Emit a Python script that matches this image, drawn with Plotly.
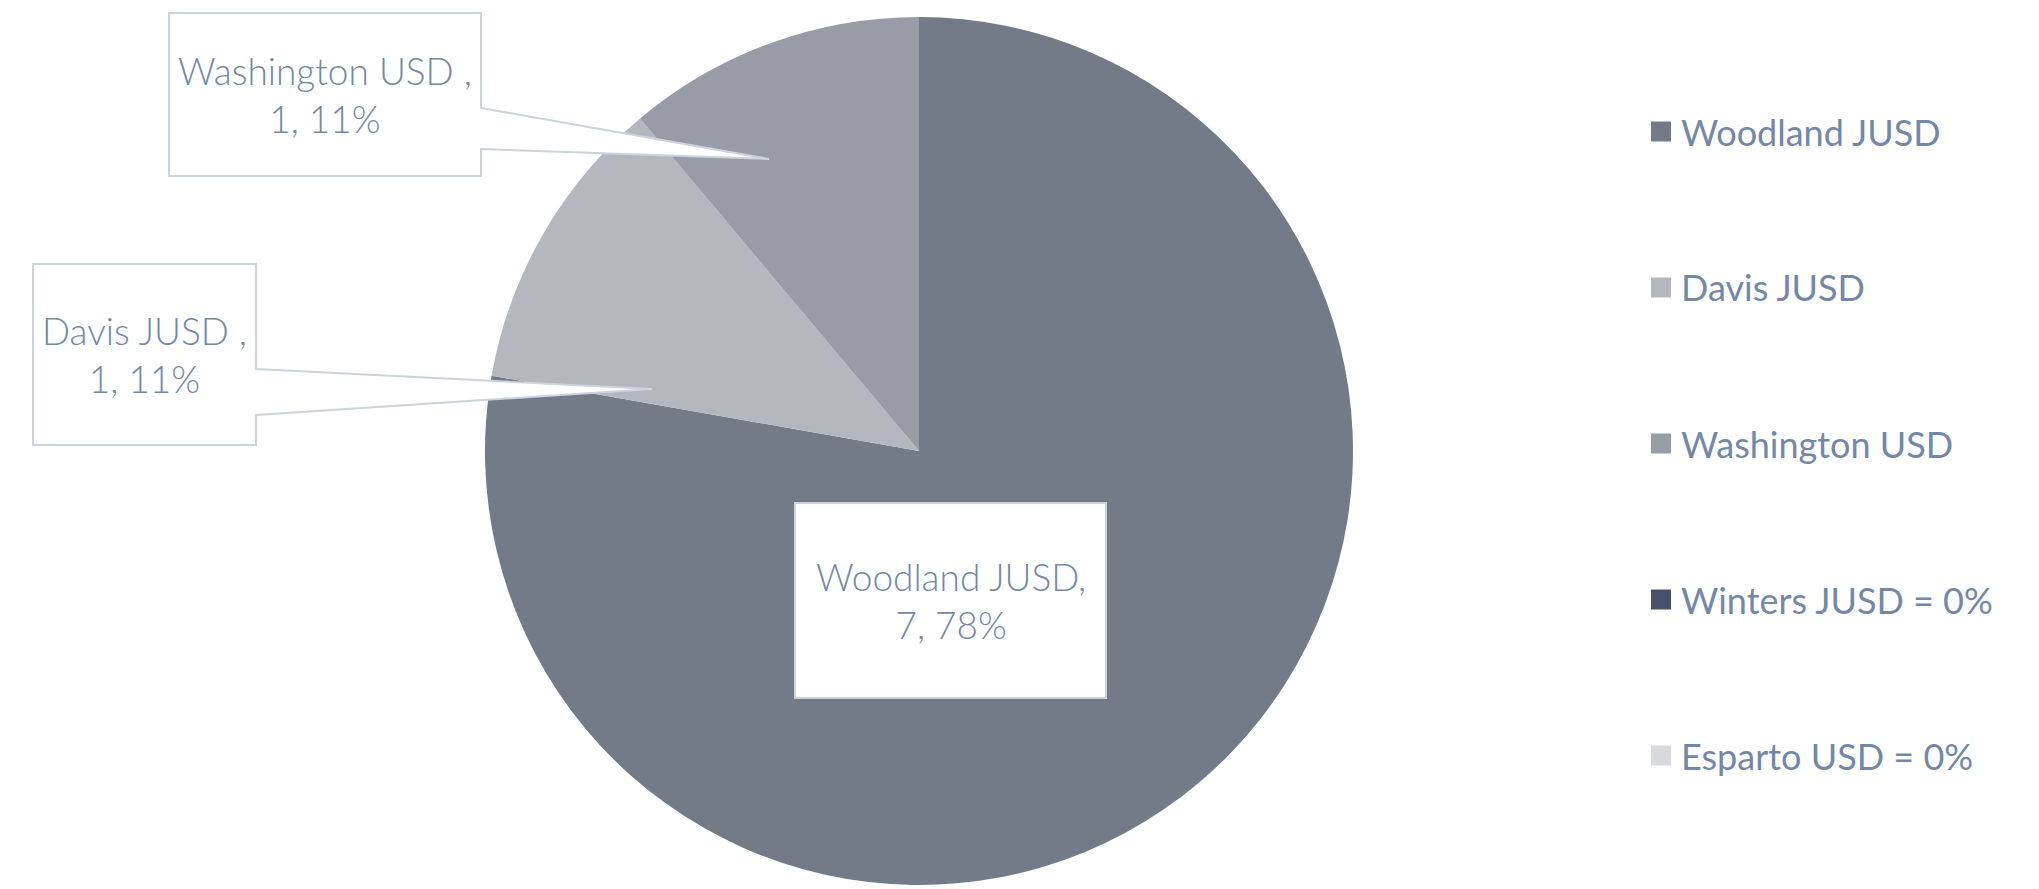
import plotly.graph_objects as go

# ---- data ----
categories = ["Woodland JUSD", "Davis JUSD", "Washington USD", "Winters JUSD", "Esparto USD"]
values = [7, 1, 1, 0, 0]
colors = ["#737b89", "#b4b7bd", "#979ca6", "#45526a", "#d8d9dc"]

# ---- layout constants (pixels) ----
W, H = 2039, 889
CX, CY, R = 919, 451, 434
TEXT_COLOR = "#7388a8"
BORDER = "#cbd3de"
FONT = "Lato"

def px(x):
    return x / W

def py(y):
    return 1 - y / H

total = sum(values)
pcts = [round(100 * v / total) for v in values]

fig = go.Figure()
fig.add_trace(go.Pie(
    labels=categories,
    values=values,
    sort=False,
    direction="clockwise",
    rotation=0,
    marker=dict(colors=colors, line=dict(width=0)),
    textinfo="none",
    hoverinfo="label+value+percent",
    showlegend=False,
    domain=dict(x=[px(CX - R), px(CX + R)], y=[py(CY + R), py(CY - R)]),
))

shapes = []
annotations = []

# callout boxes: index -> (box x0, y0, x1, y1, notch top, notch bottom, tip x, tip y, separator, font size)
callouts = {
    0: (795, 503, 1106, 698, None, None, None, None, ",", 37),
    1: (33, 264, 256, 445, 369, 415, 652, 389, " ,", 37),
    2: (169, 13, 481, 176, 108, 149, 769, 159, " ,", 37),
}

for i, (x0, y0, x1, y1, na, nb, tx, ty, sep, fs) in callouts.items():
    if na is None:
        path = (f"M {px(x0)},{py(y0)} L {px(x1)},{py(y0)} L {px(x1)},{py(y1)} "
                f"L {px(x0)},{py(y1)} Z")
    else:
        path = (f"M {px(x0)},{py(y0)} L {px(x1)},{py(y0)} L {px(x1)},{py(na)} "
                f"L {px(tx)},{py(ty)} L {px(x1)},{py(nb)} L {px(x1)},{py(y1)} "
                f"L {px(x0)},{py(y1)} Z")
    shapes.append(dict(type="path", xref="paper", yref="paper", path=path,
                       fillcolor="white", line=dict(color=BORDER, width=2), layer="above"))
    annotations.append(dict(
        xref="paper", yref="paper",
        x=px((x0 + x1) / 2), y=py((y0 + y1) / 2),
        xanchor="center", yanchor="middle",
        text=f"{categories[i]}{sep}<br>{values[i]}, {pcts[i]}%",
        showarrow=False, align="center",
        font=dict(family=FONT, size=fs, color=TEXT_COLOR, weight=300),
    ))

# legend (manual, evenly spaced)
LEG_X, LEG_Y0, LEG_STEP, SQ = 1651, 131.5, 156, 20
for i, (cat, v, c) in enumerate(zip(categories, values, colors)):
    yc = LEG_Y0 + i * LEG_STEP
    shapes.append(dict(type="rect", xref="paper", yref="paper",
                       x0=px(LEG_X), x1=px(LEG_X + SQ),
                       y0=py(yc + SQ / 2), y1=py(yc - SQ / 2),
                       fillcolor=c, line=dict(width=0)))
    label = cat if v > 0 else f"{cat} = 0%"
    annotations.append(dict(
        xref="paper", yref="paper", x=px(LEG_X + 28), y=py(yc),
        xanchor="left", yanchor="middle", text=label, showarrow=False,
        font=dict(family=FONT, size=36, color=TEXT_COLOR),
    ))

fig.update_layout(
    width=W, height=H,
    margin=dict(l=0, r=0, t=0, b=0),
    paper_bgcolor="white", plot_bgcolor="white",
    shapes=shapes, annotations=annotations,
    font=dict(family=FONT, color=TEXT_COLOR),
)

fig.write_html("out.html",
               config={"displayModeBar": False},
               post_script="document.body.style.margin='0';document.body.style.overflow='hidden';")
